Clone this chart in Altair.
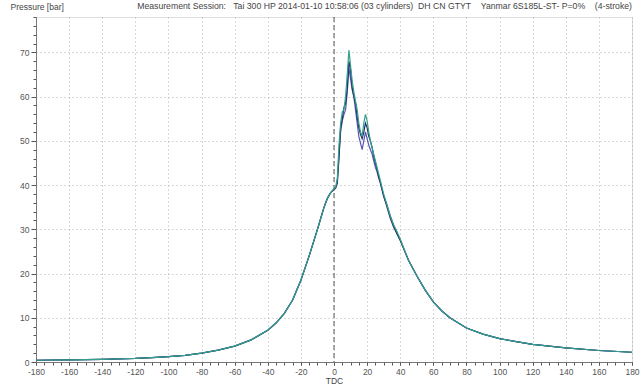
import altair as alt
import pandas as pd

# Crank angle (deg relative to TDC) for the compression stroke, shared by all cylinders
comp_deg = [-180, -170, -160, -150, -140, -130, -120, -110, -100, -90, -80, -70, -60,
            -50, -40, -35, -30, -25, -20, -15, -10, -8, -6, -4, -2]
comp_bar = [0.4, 0.45, 0.5, 0.55, 0.6, 0.7, 0.8, 1.0, 1.2, 1.5, 2.0, 2.7, 3.6,
            5.0, 7.2, 8.8, 11.0, 14.0, 18.5, 24.0, 30.0, 32.5, 35.0, 37.0, 38.3]

# Combustion region, per cylinder
comb_deg = [0, 1, 2, 3, 4, 5, 6, 7, 8, 9, 10, 11, 12, 13, 14, 15, 16, 17, 18, 19, 20,
            21, 22, 23, 24, 25, 26, 27, 28, 30, 32, 34, 36, 38, 40]
cyl1_bar = [39.2, 39.6, 41.5, 49.0, 54.0, 56.5, 57.0, 60.0, 65.0, 70.5, 67.0, 63.5, 61.0,
            59.0, 57.0, 54.0, 52.0, 51.0, 54.0, 56.0, 54.5, 52.0, 50.0, 48.5, 47.0, 45.5,
            44.0, 42.5, 41.0, 38.0, 35.5, 33.0, 31.0, 29.5, 27.8]
cyl2_bar = [39.0, 39.4, 40.5, 46.0, 53.0, 55.0, 57.5, 58.5, 62.0, 68.0, 66.0, 62.0, 60.0,
            58.5, 55.5, 53.0, 51.5, 50.5, 52.0, 54.0, 53.0, 51.0, 50.0, 48.5, 46.5, 45.0,
            43.5, 42.0, 40.5, 37.5, 35.0, 32.5, 30.5, 29.0, 27.5]
cyl3_bar = [39.0, 39.3, 40.5, 47.0, 52.0, 54.5, 56.0, 57.0, 61.0, 66.5, 64.0, 61.5, 60.0,
            57.0, 54.0, 51.0, 49.5, 48.0, 50.0, 52.0, 50.5, 49.0, 48.0, 47.0, 45.5, 44.0,
            43.0, 41.5, 40.5, 37.5, 35.5, 33.0, 31.0, 29.2, 27.6]

# Expansion stroke, shared by all cylinders
exp_deg = [45, 50, 55, 60, 65, 70, 80, 90, 100, 110, 120, 140, 160, 180]
exp_bar = [23.0, 19.5, 16.3, 13.6, 11.6, 10.0, 7.7, 6.3, 5.3, 4.6, 4.0, 3.2, 2.6, 2.2]

cylinders = ["Cyl 3", "Cyl 2", "Cyl 1"]
colors = ["#5a55b5", "#1f2d66", "#33a08a"]
comb_sets = {"Cyl 1": cyl1_bar, "Cyl 2": cyl2_bar, "Cyl 3": cyl3_bar}
tdc = [0]

rows = []
for order, cyl in enumerate(cylinders):
    degs = comp_deg + comb_deg + exp_deg
    vals = comp_bar + comb_sets[cyl] + exp_bar
    for d, v in zip(degs, vals):
        rows.append({"cyl": cyl, "deg": d, "bar": v, "order": order})
df = pd.DataFrame(rows)

font = "Liberation Sans"
label_col = "#555555"
x_scale = alt.Scale(domain=[-180, 180], nice=False, zero=False)
y_scale = alt.Scale(domain=[0, 78], nice=False)

# Major x axis: labels and grid every 20 deg
x_axis = alt.Axis(
    orient="bottom",
    values=list(range(-180, 181, 20)),
    labelExpr="'' + datum.value",
    tickSize=3, tickColor="#555555", domainColor="#777777",
    labelFont=font, labelFontSize=8.5, labelColor=label_col, labelPadding=2,
    labelFlush=False, labelOverlap=False,
    grid=True, gridDash=[1, 3], gridColor="#b0b0b0",
    title="TDC", titleFont=font, titleFontSize=8.5, titleFontWeight="normal",
    titleColor="#444444", titlePadding=1,
)
# Minor x ticks every 5 deg
x_minor = alt.Axis(
    orient="bottom",
    values=list(range(-180, 181, 5)),
    tickSize=3, tickColor="#555555", domain=False, labels=False, grid=False, title=None,
)
y_axis = alt.Axis(
    values=list(range(0, 79, 2)),
    labelExpr="datum.value % 10 == 0 ? '' + datum.value : ''",
    labelOverlap=False,
    tickSize={"condition": {"test": "datum.value % 10 == 0", "value": 5}, "value": 3},
    tickColor="#555555", domainColor="#777777",
    labelFont=font, labelFontSize=8.5, labelColor=label_col, labelPadding=2,
    grid=True, gridDash=[1, 3], gridColor="#b0b0b0",
    gridOpacity={"condition": {"test": "datum.value % 10 == 0 && datum.value > 0", "value": 1}, "value": 0},
    title="Pressure [bar]", titleFont=font, titleFontSize=8.5, titleFontWeight="normal",
    titleColor="#444444", titleAngle=0, titleAlign="left", titleBaseline="bottom",
    titleX=-26, titleY=-6,
)

lines = alt.Chart(df).mark_line(strokeWidth=1.2).encode(
    x=alt.X("deg:Q", scale=x_scale, axis=x_axis),
    y=alt.Y("bar:Q", scale=y_scale, axis=y_axis),
    color=alt.Color("cyl:N", scale=alt.Scale(domain=cylinders, range=colors), legend=None),
    order="order:Q",
)

tdc_rule = alt.Chart(pd.DataFrame({"deg": tdc})).mark_rule(
    color="#555555", strokeDash=[5, 3], strokeWidth=1
).encode(x=alt.X("deg:Q", scale=x_scale, axis=x_minor))

header = ("Measurement Session:\u00a0\u00a0\u00a0Tai 300 HP 2014-01-10 10:58:06 (03 cylinders)"
          "\u00a0\u00a0DH CN GTYT\u00a0\u00a0\u00a0\u00a0Yanmar 6S185L-ST- P=0%\u00a0\u00a0\u00a0\u00a0(4-stroke)")

chart = alt.layer(tdc_rule, lines).resolve_axis(x="independent").properties(
    width=596, height=345,
    autosize=alt.AutoSizeParams(type="none"),
    padding={"left": 36, "top": 17, "right": 12, "bottom": 25},
    title=alt.TitleParams(
        header, anchor="end", frame="group", font=font, fontSize=8.7, fontWeight="normal",
        color="#444444", offset=5, dy=14,
    ),
).configure_view(stroke="#888888", strokeWidth=1).configure(background="white")

chart.save("out.html", embed_options={"renderer": "svg", "actions": False})
